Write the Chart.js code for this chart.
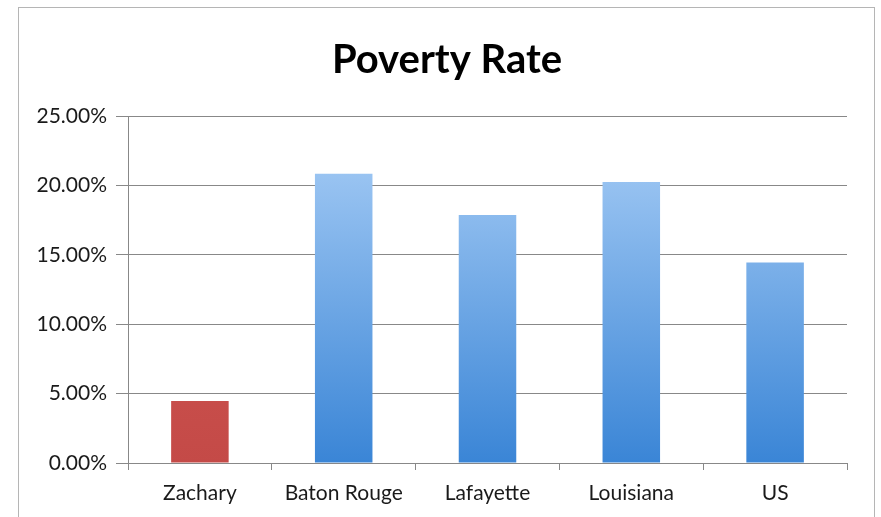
<!DOCTYPE html>
<html>
<head>
<meta charset="utf-8">
<script src="https://cdn.jsdelivr.net/npm/chart.js@4"></script>
<style>
  html, body { margin: 0; padding: 0; background: #fff; }
  #wrap { position: relative; width: 881px; height: 517px; }
  #frame { position: absolute; left: 18px; top: 7px; width: 857px; height: 520px; border: 1px solid #b5b5b5; box-sizing: border-box; pointer-events: none; }
  canvas { position: absolute; left: 0; top: 0; }
</style>
</head>
<body>
<div id="wrap">
  <canvas id="povertyChart" width="881" height="517"></canvas>
  <div id="frame"></div>
</div>
<script>
// Data
const places = ['Zachary', 'Baton Rouge', 'Lafayette', 'Louisiana', 'US'];
const povertyRates = [4.47, 20.84, 17.87, 20.24, 14.45];
const yTicks = [0, 5, 10, 15, 20, 25];
const chartTitle = 'Poverty Rate';

const axisFont = { family: "Lato, 'Open Sans', sans-serif", size: 21 };

function barColor(context) {
    const chart = context.chart;
    const area = chart.chartArea;
    if (!area) return '#5a9be0';
    const ctx = chart.ctx;
    let gradient = ctx.createLinearGradient(0, area.bottom, 0, area.top);
    if (context.dataIndex === 0) {
        // Zachary is highlighted in red
        gradient.addColorStop(0, '#c44a47');
        gradient.addColorStop(1, '#d65b58');
    } else {
        gradient.addColorStop(0, '#3a85d6');
        gradient.addColorStop(1, '#acd0f7');
    }
    return gradient;
}

// Title centred on the outer frame (like the Excel chart), not on the plot
const frameTitle = {
    id: 'frameTitle',
    afterDraw(chart) {
        const c = chart.ctx;
        c.save();
        c.font = "bold 40px Lato, 'Open Sans', sans-serif";
        c.fillStyle = '#000';
        c.textAlign = 'center';
        c.textBaseline = 'middle';
        c.fillText(chartTitle, 447, 60);
        c.restore();
    }
};

const ctx = document.getElementById('povertyChart').getContext('2d');
new Chart(ctx, {
    type: 'bar',
    data: {
        labels: places,
        datasets: [{
            label: 'Poverty Rate',
            data: povertyRates,
            backgroundColor: barColor,
            borderWidth: 0,
            barPercentage: 0.4,
            categoryPercentage: 1.0
        }]
    },
    plugins: [frameTitle],
    options: {
        responsive: false,
        animation: false,
        layout: { padding: { left: 0, right: 34, top: 116, bottom: 0 } },
        plugins: {
            legend: { display: false },
            tooltip: { enabled: false },
            title: { display: false }
        },
        scales: {
            x: {
                afterFit: s => { s.height = 54; },
                grid: {
                    offset: true,
                    drawOnChartArea: false,
                    drawTicks: true,
                    tickLength: 7,
                    color: '#888'
                },
                border: { color: '#888', width: 1 },
                ticks: { font: axisFont, color: '#1a1a1a', padding: 11 }
            },
            y: {
                min: 0,
                max: 25,
                afterFit: s => { s.width = 128; },
                afterBuildTicks: s => { s.ticks = yTicks.map(v => ({ value: v })); },
                grid: { color: '#888', tickLength: 12, drawTicks: true },
                border: { color: '#888', width: 1 },
                ticks: {
                    font: axisFont,
                    color: '#1a1a1a',
                    padding: 9,
                    callback: v => v.toFixed(2) + '%'
                }
            }
        }
    }
});
</script>
</body>
</html>
